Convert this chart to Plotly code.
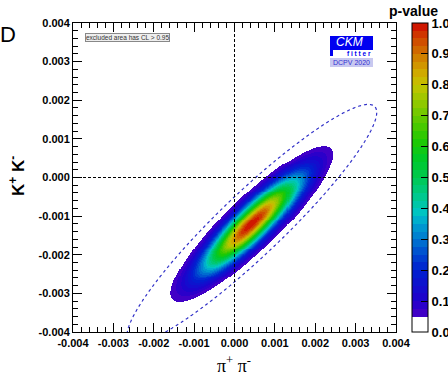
import numpy as np
import plotly.graph_objects as go

# ---- data ----
x_tick_vals = [-0.004, -0.003, -0.002, -0.001, 0.0, 0.001, 0.002, 0.003, 0.004]
x_tick_text = ["-0.004", "-0.003", "-0.002", "-0.001", "0.000", "0.001", "0.002", "0.003", "0.004"]
y_tick_vals = x_tick_vals
y_tick_text = x_tick_text
cb_tick_vals = [0.0, 0.1, 0.2, 0.3, 0.4, 0.5, 0.6, 0.7, 0.8, 0.9, 1.0]
cb_tick_text = ["0.0", "0.1", "0.2", "0.3", "0.4", "0.5", "0.6", "0.7", "0.8", "0.9", "1.0"]

# fitted 2D gaussian constraint (pi+pi-, K+K-)
fit_center = [0.00043, -0.0012]
fit_sigma = [0.00082, 0.00082]
fit_rho = 0.89
p_cut = 0.05  # excluded area has CL > 0.95

# dashed ellipse (other constraint)
dash_center = [0.00043, -0.0012]
dash_semi_axes = [0.0043, 0.0008]
dash_angle_deg = 45.0

# palette anchors (p-value -> colour)
pal_vals = [0.05, 0.10, 0.20, 0.25, 0.30, 0.35, 0.38, 0.42, 0.46, 0.50, 0.56, 0.62, 0.68, 0.74, 0.80, 0.84, 0.88, 0.92, 0.96, 1.00]
pal_cols = ["#4a00c4", "#2000cc", "#0020d0", "#0048d0", "#0078d0", "#00a0d0", "#00c4c8", "#00c8a0",
            "#00c878", "#00c850", "#00c828", "#20c800", "#58c800", "#90c800", "#c4c400", "#d0a800",
            "#d08800", "#d06000", "#d03800", "#d00800"]

# ---- grid ----
gx = np.linspace(-0.004, 0.004, 321)
gy = np.linspace(-0.004, 0.004, 321)
X, Y = np.meshgrid(gx, gy)
dx = (X - fit_center[0]) / fit_sigma[0]
dy = (Y - fit_center[1]) / fit_sigma[1]
chi2 = (dx * dx - 2 * fit_rho * dx * dy + dy * dy) / (1 - fit_rho ** 2)
pval = np.exp(-chi2 / 2.0)
pz = np.where(pval >= p_cut, pval, np.nan)

th = np.deg2rad(dash_angle_deg)
ux = X - dash_center[0]
uy = Y - dash_center[1]
u = ux * np.cos(th) + uy * np.sin(th)
v = -ux * np.sin(th) + uy * np.cos(th)
q = (u / dash_semi_axes[0]) ** 2 + (v / dash_semi_axes[1]) ** 2


def hex2rgb(h):
    return np.array([int(h[i:i + 2], 16) for i in (1, 3, 5)], dtype=float)


def pal_at(val):
    for i in range(len(pal_vals) - 1):
        if val <= pal_vals[i + 1]:
            t = (val - pal_vals[i]) / (pal_vals[i + 1] - pal_vals[i])
            c = hex2rgb(pal_cols[i]) * (1 - t) + hex2rgb(pal_cols[i + 1]) * t
            return "rgb(%d,%d,%d)" % tuple(np.round(c))
    return pal_cols[-1]


# stepped colourscale (white below the cut)
cs = [[0.0, "white"], [p_cut, "white"]]
steps = np.linspace(p_cut, 1.0, 39)
for a, b in zip(steps[:-1], steps[1:]):
    col = pal_at((a + b) / 2)
    cs.append([float(a), col])
    cs.append([float(b), col])

fig = go.Figure()
fig.add_trace(go.Heatmap(
    x=gx, y=gy, z=pz, zmin=0, zmax=1, colorscale=cs, zsmooth=False,
    hoverinfo="skip",
    colorbar=dict(
        x=(412 - 73) / 323, xanchor="left", xpad=0, ypad=0,
        y=0.5, yanchor="middle", len=1.0, lenmode="fraction", thickness=16,
        outlinecolor="black", outlinewidth=1,
        tickvals=cb_tick_vals, ticktext=cb_tick_text,
        ticks="inside", ticklen=7, tickcolor="black", tickwidth=1,
        tickfont=dict(family="Liberation Sans", size=13, weight="bold", color="black"),
    ),
))
fig.add_trace(go.Contour(
    x=gx, y=gy, z=q, showscale=False, hoverinfo="skip",
    contours=dict(start=1, end=1, size=1, coloring="none"),
    line=dict(color="#3030c8", width=1.2, dash="dot"),
))

axis_common = dict(
    showgrid=False, zeroline=False, showline=True, linecolor="black", linewidth=1,
    mirror="allticks", ticks="inside", ticklen=9, tickcolor="black",
    minor=dict(ticks="inside", ticklen=5, dtick=0.0002, tickcolor="black", showgrid=False),
    tickfont=dict(family="Liberation Sans", size=11, weight="bold", color="black"),
    range=[-0.004, 0.004],
)
fig.update_xaxes(**axis_common, tickvals=x_tick_vals, ticktext=x_tick_text, ticklabelstandoff=1)
fig.update_yaxes(**axis_common, tickvals=y_tick_vals, ticktext=y_tick_text)

shapes = [
    dict(type="line", xref="x", yref="y", x0=0, x1=0, y0=-0.004, y1=0.004,
         line=dict(color="black", width=1, dash="3px,2px"), layer="above"),
    dict(type="line", xref="x", yref="y", x0=-0.004, x1=0.004, y0=0, y1=0,
         line=dict(color="black", width=1, dash="3px,2px"), layer="above"),
]


def px2paper(px, py):
    return (px - 73) / 323, 1 - (py - 23) / 309


# CKMfitter logo
x0, y0 = px2paper(330, 36)
x1, y1 = px2paper(373, 56)
shapes.append(dict(type="rect", xref="paper", yref="paper", x0=x0, x1=x1, y0=y1, y1=y0,
                   fillcolor="#0000f0", line=dict(width=0), layer="above"))
x0, y0 = px2paper(333, 50)
x1, y1 = px2paper(373, 56)
shapes.append(dict(type="rect", xref="paper", yref="paper", x0=x0, x1=x1, y0=y1, y1=y0,
                   fillcolor="white", line=dict(width=0), layer="above"))
x0, y0 = px2paper(330, 58)
x1, y1 = px2paper(373, 67)
shapes.append(dict(type="rect", xref="paper", yref="paper", x0=x0, x1=x1, y0=y1, y1=y0,
                   fillcolor="#c8c8f0", line=dict(width=0), layer="above"))

annotations = []


def add_text(text, px, py, font, xanchor="center", yanchor="middle", **kw):
    ax_, ay_ = px2paper(px, py)
    annotations.append(dict(text=text, x=ax_, y=ay_, xref="paper", yref="paper", showarrow=False,
                            xanchor=xanchor, yanchor=yanchor, font=font, **kw))


add_text("<i>CKM</i>", 349, 42, dict(family="Liberation Sans", size=12, color="white"))
add_text("f i t t e r", 359, 53.5, dict(family="Liberation Sans", size=6.5, weight="bold", color="#0000f0"))
add_text("DCPV 2020", 351.5, 62.5, dict(family="Liberation Sans", size=7, color="#3030d0"))
add_text("excluded area has CL > 0.95", 85, 33,
         dict(family="Liberation Sans", size=6.5, color="#333333"),
         xanchor="left", yanchor="top",
         bgcolor="#eeeeee", bordercolor="#888888", borderwidth=1, borderpad=0)
add_text("p-value", 413, 11, dict(family="Liberation Sans", size=14, weight="bold", color="black"))
add_text("\u03c0<sup>+</sup> \u03c0<sup>-</sup>", 234, 364,
         dict(family="Liberation Serif", size=18, color="black"))
add_text("K<sup>+</sup> K<sup>-</sup>", 17, 176,
         dict(family="Liberation Sans", size=17, weight="bold", color="black"), textangle=-90)
add_text("D", 18, 35, dict(family="Liberation Sans", size=22, color="black"), xanchor="right")

fig.update_layout(
    width=448, height=374, autosize=False,
    margin=dict(l=73, r=52, t=23, b=42, autoexpand=False),
    paper_bgcolor="white", plot_bgcolor="white",
    showlegend=False, shapes=shapes, annotations=annotations,
)

fig.write_html("out.html")
